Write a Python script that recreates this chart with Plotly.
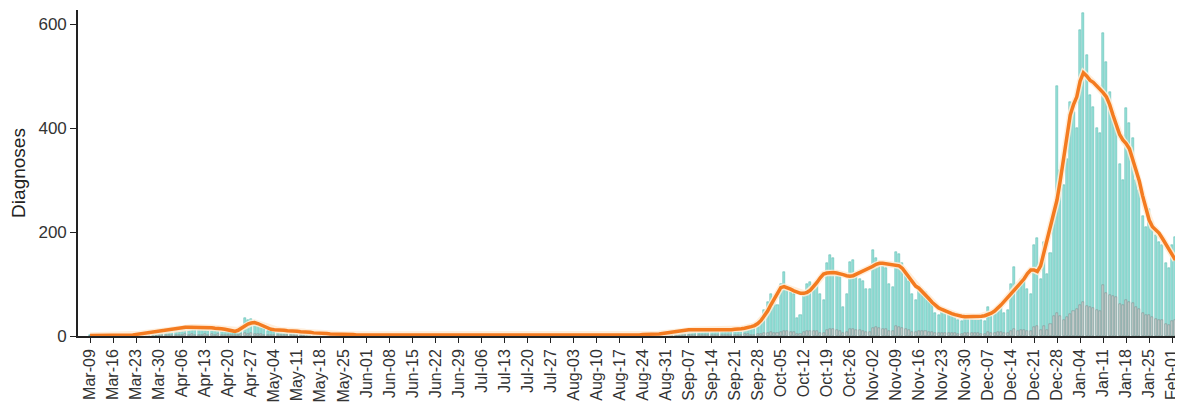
import pandas as pd
import plotly.graph_objects as go

start_date = "2020-03-09"

# Daily diagnoses (total), Mon Mar-09-2020 onward, one row per week
total = [
    1, 0, 2, 1, 1, 0, 1,
    1, 2, 1, 2, 1, 1, 2,
    3, 5, 6, 8, 9, 10, 8,
    12, 13, 14, 12, 15, 11, 10,
    18, 19, 17, 20, 16, 14, 15,
    15, 17, 18, 16, 17, 14, 13,
    11, 9, 7, 10, 18, 35, 30,
    32, 28, 25, 20, 15, 10, 9,
    13, 12, 11, 10, 9, 8, 8,
    9, 8, 8, 7, 6, 5, 5,
    5, 5, 4, 4, 3, 3, 3,
    3, 3, 2, 3, 2, 2, 2,
    2, 2, 1, 2, 2, 1, 1,
    1, 2, 1, 1, 1, 1, 0,
    1, 1, 0, 1, 2, 1, 0,
    1, 0, 1, 1, 0, 1, 1,
    0, 1, 1, 0, 1, 0, 1,
    1, 1, 0, 1, 1, 0, 0,
    1, 0, 1, 1, 1, 0, 1,
    0, 1, 1, 0, 1, 1, 0,
    1, 1, 0, 1, 0, 1, 1,
    1, 0, 1, 1, 1, 0, 1,
    1, 1, 1, 0, 1, 1, 1,
    1, 2, 1, 2, 2, 1, 1,
    3, 4, 3, 5, 4, 3, 4,
    6, 8, 9, 11, 12, 10, 9,
    13, 14, 12, 13, 11, 10, 11,
    12, 11, 13, 12, 11, 9, 10,
    13, 14, 15, 17, 20, 16, 18,
    25, 35, 50, 65, 80, 70, 60,
    100, 123, 95, 85, 80, 35, 40,
    85, 100, 104, 95, 105, 80, 70,
    140, 155, 150, 125, 118, 56, 80,
    142, 146, 120, 110, 105, 90, 90,
    165, 150, 140, 135, 130, 100, 95,
    162, 158, 140, 125, 105, 80, 70,
    95, 90, 85, 75, 65, 45, 40,
    50, 48, 45, 40, 38, 30, 28,
    40, 38, 37, 36, 35, 30, 28,
    56, 45, 50, 55, 60, 45, 50,
    100, 133, 90, 110, 113, 90, 80,
    175, 188, 110, 180, 120, 160, 230,
    480, 320, 290, 340, 450, 430, 400,
    588, 621, 540, 463, 440, 400, 390,
    582, 527, 470, 430, 400, 330, 300,
    438, 410, 380, 300, 280, 230, 210,
    245, 220, 195, 180, 175, 140, 130,
    175, 190, 140,
]

# Subgroup shown in grey at the bottom of each bar
subgroup = [
    0, 0, 0, 0, 0, 0, 0,
    0, 0, 0, 0, 0, 0, 0,
    0, 0, 0, 0, 0, 0, 0,
    1, 1, 2, 1, 2, 1, 1,
    2, 3, 2, 3, 2, 2, 2,
    3, 2, 3, 2, 3, 2, 2,
    2, 1, 1, 2, 3, 5, 4,
    5, 4, 4, 3, 2, 2, 1,
    2, 1, 1, 1, 1, 1, 1,
    1, 1, 1, 0, 1, 0, 0,
    0, 0, 0, 0, 0, 0, 0,
    0, 0, 0, 0, 0, 0, 0,
    0, 0, 0, 0, 0, 0, 0,
    0, 0, 0, 0, 0, 0, 0,
    0, 0, 0, 0, 0, 0, 0,
    0, 0, 0, 0, 0, 0, 0,
    0, 0, 0, 0, 0, 0, 0,
    0, 0, 0, 0, 0, 0, 0,
    0, 0, 0, 0, 0, 0, 0,
    0, 0, 0, 0, 0, 0, 0,
    0, 0, 0, 0, 0, 0, 0,
    0, 0, 0, 0, 0, 0, 0,
    0, 0, 0, 0, 0, 0, 0,
    0, 0, 0, 0, 0, 0, 0,
    0, 1, 0, 1, 0, 0, 1,
    1, 1, 1, 2, 1, 1, 1,
    2, 2, 1, 2, 1, 1, 1,
    1, 2, 2, 1, 1, 1, 1,
    2, 2, 2, 3, 3, 2, 2,
    3, 4, 5, 6, 7, 5, 5,
    8, 10, 9, 8, 7, 4, 4,
    8, 9, 10, 9, 9, 6, 6,
    12, 14, 13, 11, 10, 6, 7,
    13, 14, 12, 11, 10, 7, 8,
    16, 18, 15, 14, 13, 9, 10,
    20, 17, 15, 13, 12, 8, 8,
    10, 10, 9, 8, 7, 5, 5,
    6, 6, 5, 5, 5, 4, 4,
    5, 5, 5, 5, 5, 4, 4,
    7, 6, 6, 7, 8, 6, 6,
    10, 14, 10, 12, 12, 9, 9,
    17, 20, 12, 20, 12, 24, 38,
    45, 38, 30, 36, 42, 48, 52,
    60, 66, 58, 55, 54, 50, 48,
    98, 82, 78, 76, 75, 62, 60,
    69, 66, 64, 56, 52, 44, 40,
    40, 36, 33, 30, 30, 24, 22,
    28, 30, 22,
]

# 7-day average line
rolling = [
    1, 1, 1, 1, 1, 1, 1,
    1, 1, 1, 1, 1, 2, 2,
    3, 4, 5, 6, 7, 8, 9,
    10, 11, 12, 13, 14, 15, 15,
    16, 17, 17, 17, 17, 16, 16,
    16, 16, 16, 15, 15, 14, 13,
    12, 10, 9, 11, 15, 19, 23,
    25, 26, 24, 21, 18, 15, 13,
    12, 12, 11, 11, 10, 10, 9,
    9, 8, 8, 7, 7, 6, 6,
    5, 5, 5, 4, 4, 4, 3,
    3, 3, 3, 3, 2, 2, 2,
    2, 2, 2, 2, 2, 2, 1,
    1, 1, 1, 1, 1, 1, 1,
    1, 1, 1, 1, 1, 1, 1,
    1, 1, 1, 1, 1, 1, 1,
    1, 1, 1, 1, 1, 1, 1,
    1, 1, 1, 1, 1, 1, 1,
    1, 1, 1, 1, 1, 1, 1,
    1, 1, 1, 1, 1, 1, 1,
    1, 1, 1, 1, 1, 1, 1,
    1, 1, 1, 1, 1, 1, 1,
    1, 1, 1, 1, 1, 1, 1,
    1, 1, 2, 2, 2, 2, 2,
    3, 3, 3, 4, 4, 4, 5,
    6, 7, 8, 9, 10, 11, 11,
    12, 12, 12, 12, 12, 11, 11,
    11, 11, 11, 11, 12, 12, 12,
    13, 13, 14, 15, 16, 18, 20,
    24, 30, 38, 48, 60, 72, 84,
    93, 95, 93, 90, 87, 84, 82,
    82, 84, 88, 95, 103, 112, 119,
    121, 122, 122, 121, 120, 118, 116,
    115, 116, 119, 122, 125, 127, 130,
    134, 138, 140, 140, 139, 138, 137,
    136, 135, 130, 122, 113, 104, 96,
    92, 86, 79, 72, 65, 59, 54,
    51, 48, 45, 43, 41, 39, 38,
    37, 37, 37, 37, 37, 38, 39,
    41, 44, 48, 53, 60, 67, 74,
    82, 88, 95, 102, 110, 120, 127,
    127, 124, 135, 160, 185, 210, 235,
    262, 300, 345, 390, 425, 445, 460,
    490, 506, 500, 492, 488, 482, 476,
    468, 460, 445, 425, 405, 388, 377,
    370, 360, 340, 320, 298, 270, 245,
    223, 210, 204, 198, 188, 177, 165,
    155, 146,
]

week_ticks = pd.date_range("2020-03-09", "2021-02-01", freq="7D")
x_range = ["2020-03-05 08:00", "2021-02-04 07:00"]
shade_start = "2021-02-02 12:00"
y_ticks = [0, 200, 400, 600]

dates_bar = pd.date_range(start_date, periods=len(total), freq="D")
dates_line = pd.date_range(start_date, periods=len(rolling), freq="D")
day_ms = 86400000

fig = go.Figure()
fig.add_trace(go.Bar(
    x=dates_bar, y=total, width=0.62 * day_ms,
    marker=dict(color="#97e3da", line=dict(color="#4fb3a9", width=0.5)),
    showlegend=False,
))
fig.add_trace(go.Bar(
    x=dates_bar, y=subgroup, width=0.62 * day_ms,
    marker=dict(color="#c4cccb", line=dict(color="#7c8786", width=0.5)),
    showlegend=False,
))
fig.add_trace(go.Scatter(
    x=dates_line, y=rolling, mode="lines",
    line=dict(color="rgba(255,236,215,0.9)", width=6.5),
    showlegend=False, hoverinfo="skip",
))
fig.add_trace(go.Scatter(
    x=dates_line, y=rolling, mode="lines",
    line=dict(color="#f47b20", width=3.5),
    showlegend=False,
))

fig.add_shape(type="rect", xref="x", yref="paper",
              x0=shade_start, x1=x_range[1], y0=0, y1=1,
              fillcolor="#ebebeb", line=dict(width=0), layer="below")

# page body adds an 8px offset; size the figure so it fits the 1183x403 window
fig.update_layout(
    width=1175, height=395, autosize=False,
    margin=dict(l=70, r=0, t=2, b=67, autoexpand=False),
    paper_bgcolor="white", plot_bgcolor="white",
    barmode="overlay", bargap=0,
    font=dict(family="Liberation Sans, Arial, sans-serif", color="#222", size=17),
)
fig.update_xaxes(
    range=x_range, tickvals=week_ticks, tickformat="%b-%d", tickangle=-90,
    showline=True, linecolor="#222", linewidth=1.6,
    ticks="outside", ticklen=5, tickcolor="#222", tickwidth=1.4,
    showgrid=False, zeroline=False, tickfont=dict(size=16, color="#333"),
    automargin=False,
)
fig.update_yaxes(
    range=[0, 627], tickvals=y_ticks,
    showline=True, linecolor="#222", linewidth=1.6,
    ticks="outside", ticklen=6, tickcolor="#222", tickwidth=1.4,
    showgrid=False, zeroline=False, tickfont=dict(size=17, color="#333"),
    title=dict(text="Diagnoses", font=dict(size=19, color="#222"), standoff=8),
    automargin=False,
)

fig.write_html("out.html")
